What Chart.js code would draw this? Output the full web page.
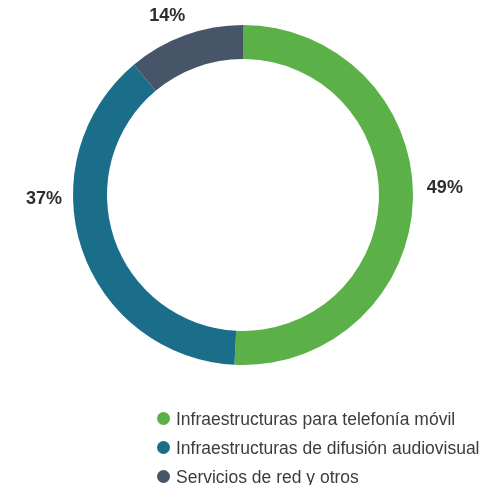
<!DOCTYPE html>
<html><head><meta charset="utf-8">
<script src="https://cdn.jsdelivr.net/npm/chart.js@4/dist/chart.umd.min.js"></script>
<style>
html,body{margin:0;padding:0;background:#fff;}
#wrap{position:relative;width:493px;height:485px;}
#legend{position:absolute;left:157px;top:404px;font-family:"Liberation Sans",Arial,sans-serif;font-size:17.5px;color:#3c3c3c;}
#legend div{height:29px;line-height:26px;display:flex;align-items:center;white-space:nowrap;}
#legend span.dot{display:inline-block;width:13px;height:13px;border-radius:50%;margin-right:6px;}
</style></head>
<body><div id="wrap"><canvas id="c" width="493" height="485"></canvas><div id="legend"></div></div>
<script>
const categories = ["Infraestructuras para telefonía móvil","Infraestructuras de difusión audiovisual","Servicios de red y otros"];
const values = [50.8, 38.1, 11.1];
const valueLabels = ["49%","37%","14%"];
const colors = ["#5bb047","#1a6e8a","#465567"];

const pctLabels = {
  id:'pctLabels',
  afterDraw(chart, args, opts){
    const ctx = chart.ctx;
    const meta = chart.getDatasetMeta(0);
    ctx.save();
    ctx.font = "bold 18px 'Liberation Sans', Arial, sans-serif";
    ctx.fillStyle = "#2e2e2e";
    ctx.textAlign = "center";
    ctx.textBaseline = "middle";
    meta.data.forEach((arc,i)=>{
      const p = arc.getProps(['x','y','startAngle','endAngle','outerRadius'],true);
      const a = (p.startAngle+p.endAngle)/2 + opts.shift[i]*Math.PI/180;
      const r = p.outerRadius + opts.dist[i];
      ctx.fillText(valueLabels[i], p.x + Math.cos(a)*r, p.y + Math.sin(a)*r);
    });
    ctx.restore();
  }
};

new Chart(document.getElementById('c'),{
  type:'doughnut',
  data:{labels:categories,datasets:[{data:values,backgroundColor:colors,borderWidth:0}]},
  options:{
    responsive:false,animation:false,cutout:'80%',
    layout:{padding:{left:73,right:80,top:25,bottom:120}},
    plugins:{legend:{display:false},tooltip:{enabled:false},
      pctLabels:{shift:[-3.5,17.5,-3],dist:[32,29,24]}}
  },
  plugins:[pctLabels]
});

const lg = document.getElementById('legend');
categories.forEach((c,i)=>{
  const d=document.createElement('div');
  d.innerHTML='<span class="dot" style="background:'+colors[i]+'"></span>'+c;
  lg.appendChild(d);
});
</script></body></html>
